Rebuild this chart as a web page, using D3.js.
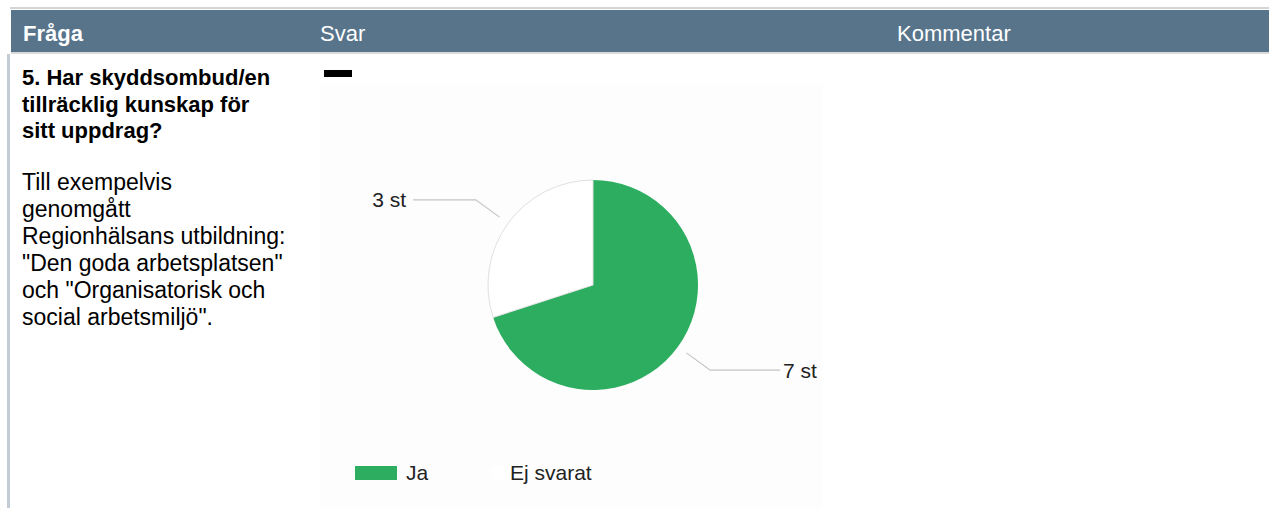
<!DOCTYPE html>
<html>
<head>
<meta charset="utf-8">
<script src="https://cdn.jsdelivr.net/npm/d3@7"></script>
<style>
  body { margin: 0; background: #fff; font-family: "Liberation Sans", Arial, sans-serif; }
</style>
</head>
<body>
<div class="my_dataviz"></div>
<script>
const headers = ["Fråga", "Svar", "Kommentar"]
const questionLines = ["5. Har skyddsombud/en", "tillräcklig kunskap för", "sitt uppdrag?"]
const helpLines = ["Till exempelvis", "genomgått", "Regionhälsans utbildning:",
  "\"Den goda arbetsplatsen\"", "och \"Organisatorisk och", "social arbetsmiljö\"."]
const categories = ["Ja", "Ej svarat"]
const values = [7, 3]
const valueLabels = ["7 st", "3 st"]

const width = 1269, height = 508

let svg = d3.select(".my_dataviz")
  .append("svg")
  .attr("width", width)
  .attr("height", height)

// table frame
svg.append("rect").attr("x", 10).attr("y", 7).attr("width", width - 10).attr("height", 2).attr("fill", "#d4d4d4")
svg.append("rect").attr("x", 11).attr("y", 10).attr("width", width - 11).attr("height", 42).attr("fill", "#57748b")
svg.append("rect").attr("x", 11).attr("y", 52).attr("width", width - 11).attr("height", 2).attr("fill", "#dadada")
svg.append("rect").attr("x", 7).attr("y", 54).attr("width", 3).attr("height", height - 54).attr("fill", "#c3ccd5")

let headerX = [23, 320, 897]
svg.selectAll(".hdr")
  .data(headers)
  .enter()
  .append("text")
  .attr("x", (d, i) => headerX[i])
  .attr("y", 41)
  .attr("fill", "#fff")
  .attr("font-size", 22)
  .attr("font-weight", (d, i) => i === 0 ? "bold" : "normal")
  .text(d => d)

svg.selectAll(".q")
  .data(questionLines)
  .enter()
  .append("text")
  .attr("x", 22)
  .attr("y", (d, i) => 85 + i * 26.5)
  .attr("font-size", 22)
  .attr("font-weight", "bold")
  .attr("fill", "#000")
  .text(d => d)

svg.selectAll(".h")
  .data(helpLines)
  .enter()
  .append("text")
  .attr("x", 22)
  .attr("y", (d, i) => 190 + i * 27)
  .attr("font-size", 23)
  .attr("fill", "#000")
  .text(d => d)

// collapse dash
svg.append("rect").attr("x", 324).attr("y", 70).attr("width", 28).attr("height", 7).attr("fill", "#000")

// chart area
svg.append("rect").attr("x", 320).attr("y", 85).attr("width", 502).attr("height", height - 85).attr("fill", "#fdfdfd")

const cx = 593, cy = 285, r = 105
let color = d3.scaleOrdinal().domain(categories).range(["#2dad5f", "#ffffff"])
let pie = d3.pie().sort(null).value(d => d.value)
let arcs = pie(categories.map((c, i) => ({ name: c, value: values[i], label: valueLabels[i] })))
let arc = d3.arc().innerRadius(0).outerRadius(r)

let g = svg.append("g").attr("transform", "translate(" + cx + "," + cy + ")")
g.selectAll("path")
  .data(arcs)
  .enter()
  .append("path")
  .attr("d", arc)
  .attr("fill", d => color(d.data.name))
  .attr("stroke", d => d.index === 0 ? "none" : "#e0e0e0")
  .attr("stroke-width", 1)

// leader lines and labels
let inner = d3.arc().innerRadius(r * 1.1).outerRadius(r * 1.1)
let outer = d3.arc().innerRadius(r * 1.38).outerRadius(r * 1.38)
arcs.forEach(function (d) {
  let p0 = inner.centroid(d)
  let p1 = outer.centroid(d)
  let right = p1[0] > 0
  let p2 = [right ? 187 : -180, p1[1]]
  g.append("polyline")
    .attr("points", [p0, p1, p2].map(p => p.join(",")).join(" "))
    .attr("fill", "none")
    .attr("stroke", "#c4c4c4")
    .attr("stroke-width", 1.2)
  g.append("text")
    .attr("x", right ? p2[0] + 3 : p2[0] - 7)
    .attr("y", p1[1])
    .attr("dy", "0.35em")
    .attr("text-anchor", right ? "start" : "end")
    .attr("font-size", 21)
    .attr("fill", "#222")
    .text(d.data.label)
})

// legend
let legendX = [355, 492]
let legend = svg.selectAll(".lg")
  .data(categories)
  .enter()
  .append("g")
  .attr("transform", (d, i) => "translate(" + legendX[i] + ",466)")
legend.append("rect")
  .attr("width", 42)
  .attr("height", 14)
  .attr("fill", d => color(d))
legend.append("text")
  .attr("x", d => d === "Ja" ? 51 : 18)
  .attr("y", 7)
  .attr("dy", "0.35em")
  .attr("font-size", 21)
  .attr("fill", "#222")
  .text(d => d)
</script>
</body>
</html>
